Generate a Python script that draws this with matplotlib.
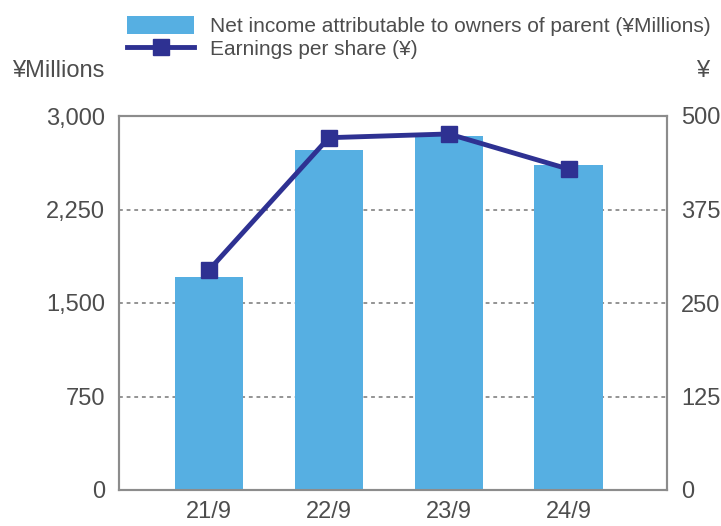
import numpy as np
import matplotlib.pyplot as plt
from matplotlib.lines import Line2D
from matplotlib.patches import Patch

# データ
categories = ['21/9', '22/9', '23/9', '24/9']
net_income = [1710, 2725, 2840, 2605]   # ¥Millions
eps = [294, 471, 476, 429]              # ¥

bar_color = '#56afe2'
line_color = '#2e3192'
text_color = '#4d4d4d'
frame_color = '#8c8c8c'

plt.rcParams['font.family'] = ['Liberation Sans', 'DejaVu Sans']

fig = plt.figure(figsize=(7.21, 5.26), dpi=100)
ax = fig.add_axes([119 / 721, 1 - 490 / 526, 548 / 721, 374 / 526])
x = np.arange(len(categories))

ax.bar(x, net_income, width=0.57, color=bar_color, zorder=3)
ax.set_xlim(-0.75, 3.82)
ax.set_ylim(0, 3000)
ax.set_yticks([0, 750, 1500, 2250, 3000])
ax.set_yticklabels(['0', '750', '1,500', '2,250', '3,000'])
ax.set_xticks(x)
ax.set_xticklabels(categories)
for y in [750, 1500, 2250]:
    ax.axhline(y, color='#777777', lw=1.1, ls=(0, (2.5, 2.5)), zorder=1)
ax.tick_params(length=0, labelsize=17, colors=text_color, pad=10)
ax.tick_params(axis='x', pad=8)
for s in ax.spines.values():
    s.set_color(frame_color)
    s.set_linewidth(1.5)

ax2 = ax.twinx()
ax2.plot(x, eps, color=line_color, lw=3.5, marker='s', ms=12, zorder=4)
ax2.set_ylim(0, 500)
ax2.set_yticks([0, 125, 250, 375, 500])
ax2.tick_params(length=0, labelsize=17, colors=text_color, pad=10)
for s in ax2.spines.values():
    s.set_color(frame_color)
    s.set_linewidth(1.5)

fig.text(12 / 721, 1 - 71 / 526, '¥Millions', fontsize=17, color=text_color, va='center')
fig.text(703 / 721, 1 - 71 / 526, '¥', fontsize=17, color=text_color, va='center', ha='center')

handles = [Patch(facecolor=bar_color, edgecolor='none'),
           Line2D([], [], color=line_color, lw=3.5, marker='s', ms=12)]
labels = ['Net income attributable to owners of parent (¥Millions)', 'Earnings per share (¥)']
fig.legend(handles, labels, loc='upper left', bbox_to_anchor=(119 / 721, 1 - 8 / 526),
           frameon=False, fontsize=15, labelcolor=text_color, handlelength=3.2,
           handleheight=0.9, handletextpad=0.75, labelspacing=0.15, borderaxespad=0)

fig.savefig('out.png', dpi=100)
